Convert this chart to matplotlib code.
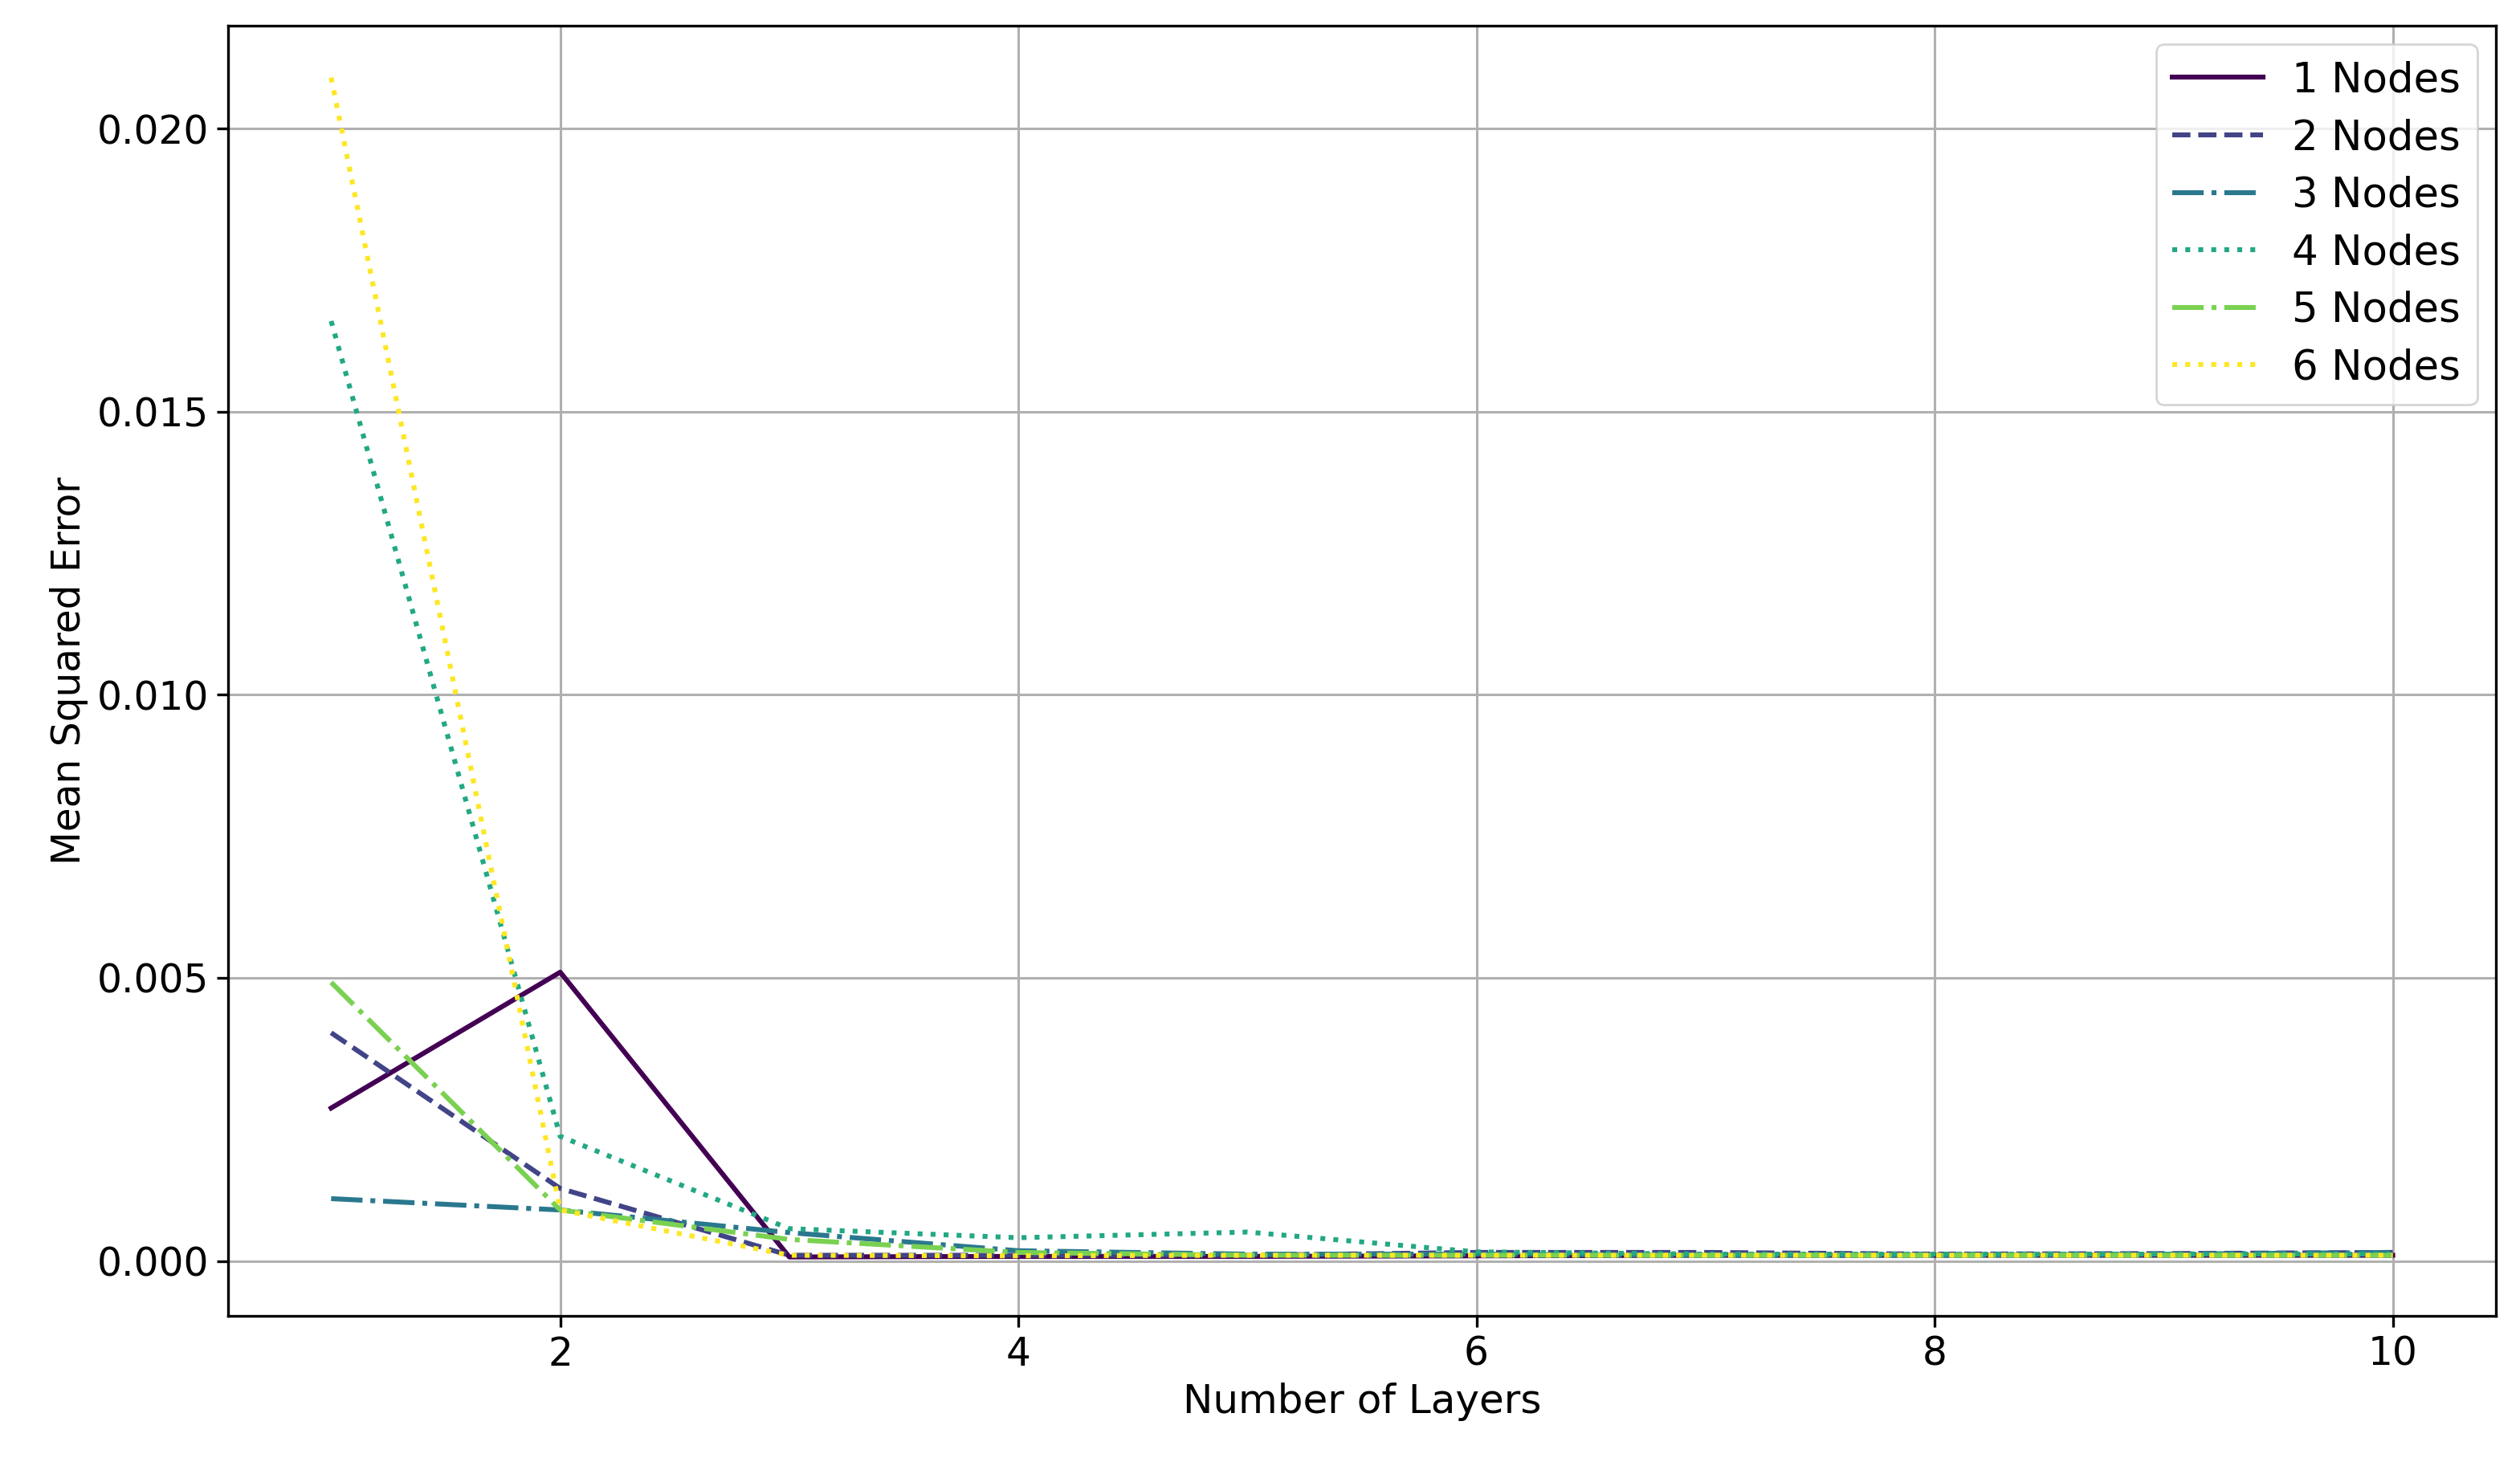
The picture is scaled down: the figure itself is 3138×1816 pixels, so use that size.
import matplotlib
matplotlib.use('Agg')
import matplotlib.pyplot as plt
import numpy as np

layers = [1, 2, 3, 4, 5, 6, 7, 8, 9, 10]
node_labels = ['1 Nodes', '2 Nodes', '3 Nodes', '4 Nodes', '5 Nodes', '6 Nodes']

mse_1 = [0.0027, 0.0051, 0.00007, 0.00008, 0.00008, 0.00009, 0.0001, 0.0001, 0.0001, 0.0001]
mse_2 = [0.00403, 0.00128, 0.0001, 0.0001, 0.0001, 0.00015, 0.00015, 0.00012, 0.00013, 0.00015]
mse_3 = [0.0011, 0.0009, 0.0005, 0.00018, 0.00012, 0.00012, 0.0001, 0.0001, 0.00012, 0.00015]
mse_4 = [0.0166, 0.0022, 0.00057, 0.00041, 0.00051, 0.00016, 0.00012, 0.00012, 0.00012, 0.00012]
mse_5 = [0.00492, 0.0009, 0.00038, 0.00015, 0.0001, 0.0001, 0.0001, 0.0001, 0.0001, 0.0001]
mse_6 = [0.0209, 0.0009, 0.0001, 0.00009, 0.0001, 0.0001, 0.0001, 0.0001, 0.0001, 0.0001]

all_mse = [mse_1, mse_2, mse_3, mse_4, mse_5, mse_6]
styles = ['-', '--', '-.', ':', '-.', ':']
colors = plt.cm.viridis(np.linspace(0, 1, len(all_mse)))

fig = plt.figure(figsize=(15.69, 9.08), dpi=200)
ax = fig.add_axes([0.0905, 0.0975, 0.8999, 0.885])

for mse, label, ls, c in zip(all_mse, node_labels, styles, colors):
    ax.plot(layers, mse, linestyle=ls, color=c, linewidth=2.2, label=label)

ax.set_xlabel('Number of Layers', fontsize=18)
ax.set_ylabel('Mean Squared Error', fontsize=17.5)
ax.tick_params(labelsize=17.5, width=1.2, length=5)
ax.set_xticks([2, 4, 6, 8, 10])
ax.set_yticks([0.0, 0.005, 0.010, 0.015, 0.020])
ax.set_ylim(-0.00097, 0.02182)
ax.yaxis.set_major_formatter(matplotlib.ticker.FormatStrFormatter('%.3f'))
ax.grid(True, linewidth=1.1)
for s in ax.spines.values():
    s.set_linewidth(1.2)
ax.legend(loc='upper right', fontsize=18.5, handlelength=2.2, labelspacing=0.42,
          borderaxespad=0.45, handletextpad=0.7)

fig.savefig('out.png', dpi=200)
